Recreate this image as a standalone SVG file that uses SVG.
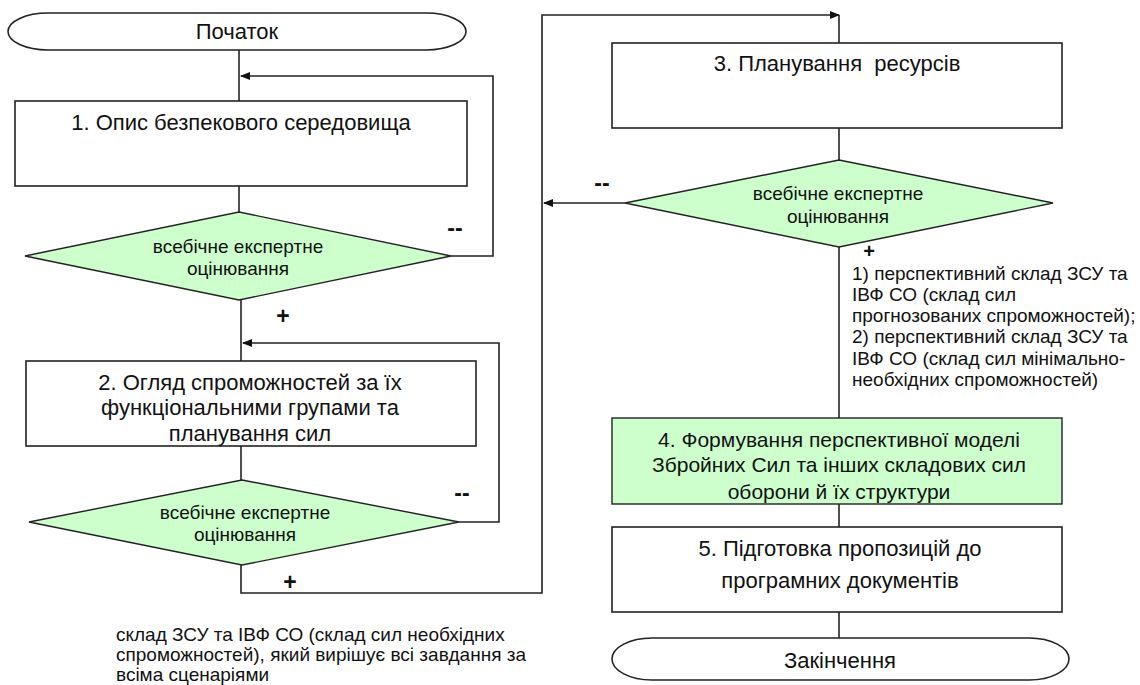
<svg xmlns="http://www.w3.org/2000/svg" width="1140" height="685" viewBox="0 0 1140 685">
<defs>
<style>
.shape{fill:#fff;stroke:#222;stroke-width:1.6}
.green{fill:#ccffcc;stroke:#222;stroke-width:1.4}
.c{fill:none;stroke:#222;stroke-width:1.6}
.t{font-family:"Liberation Sans",Arial,sans-serif;fill:#111}
.big{font-size:22px;text-anchor:middle}
.mid{font-size:19px;text-anchor:middle}
.note{font-size:19px}
.sign{font-size:23px;font-weight:bold;text-anchor:middle}
</style>
<marker id="arr" markerWidth="10" markerHeight="8" refX="9" refY="4" orient="auto" markerUnits="userSpaceOnUse">
<path d="M0,0 L10,4 L0,8 z" fill="#111"/>
</marker>
</defs>
<rect width="1140" height="685" fill="#fff"/>

<g id="connectors">
<line class="c" x1="239" y1="50" x2="239" y2="101"/>
<line class="c" x1="239" y1="186" x2="239" y2="212"/>
<path class="c" d="M451,256 H493 V76 H241" marker-end="url(#arr)"/>
<line class="c" x1="241" y1="300" x2="241" y2="361"/>
<path class="c" d="M459,522 H499 V343 H243" marker-end="url(#arr)"/>
<line class="c" x1="241" y1="446" x2="241" y2="480"/>
<path class="c" d="M241,565 V593 H542 V15 H839" marker-end="url(#arr)"/>
<line class="c" x1="839" y1="15" x2="839" y2="43"/>
<line class="c" x1="839" y1="128" x2="839" y2="160"/>
<path class="c" d="M625,203 H544" marker-end="url(#arr)"/>
<line class="c" x1="839" y1="247" x2="839" y2="418"/>
<line class="c" x1="839" y1="504" x2="839" y2="527"/>
<line class="c" x1="839" y1="612" x2="839" y2="638"/>
<text class="t sign" x="455" y="236">--</text>
<text class="t sign" x="462" y="501">--</text>
<text class="t sign" x="602" y="191">--</text>
<text class="t sign" x="283" y="324">+</text>
<text class="t sign" x="290" y="590">+</text>
<text class="t sign" x="869" y="258" style="font-size:20px">+</text>
</g>

<g id="start">
<path class="shape" d="M48,13 H426 A40,18.5 0 0 1 426,50 H48 A40,18.5 0 0 1 48,13 Z"/>
<text class="t big" x="237" y="39">Початок</text>
</g>

<g id="step1">
<rect class="shape" x="15" y="101" width="452" height="85"/>
<text class="t big" x="241" y="130">1. Опис безпекового середовища</text>
</g>

<g id="decision1">
<polygon class="green" points="239,212 451,256 239,300 25,256"/>
<text class="t mid" x="238" y="253">всебічне експертне</text>
<text class="t mid" x="238" y="275">оцінювання</text>
</g>

<g id="step2">
<rect class="shape" x="26" y="361" width="450" height="85"/>
<text class="t big" x="250" y="390">2. Огляд спроможностей за їх</text>
<text class="t big" x="250" y="415">функціональними групами та</text>
<text class="t big" x="250" y="441">планування сил</text>
</g>

<g id="decision2">
<polygon class="green" points="242,480 459,522 242,565 29,522"/>
<text class="t mid" x="245" y="519">всебічне експертне</text>
<text class="t mid" x="245" y="541">оцінювання</text>
</g>

<g id="note-left">
<text class="t note" x="116" y="641">склад ЗСУ та ІВФ СО (склад сил необхідних</text>
<text class="t note" x="116" y="661">спроможностей), який вирішує всі завдання за</text>
<text class="t note" x="116" y="681">всіма сценаріями</text>
</g>

<g id="step3">
<rect class="shape" x="612" y="43" width="450" height="85"/>
<text class="t big" x="837" y="71" xml:space="preserve">3. Планування  ресурсів</text>
</g>

<g id="decision3">
<polygon class="green" points="839,160 1053,203 839,247 625,203"/>
<text class="t mid" x="838" y="200">всебічне експертне</text>
<text class="t mid" x="838" y="223">оцінювання</text>
</g>

<g id="note-right">
<text class="t note" x="852" y="280">1) перспективний склад ЗСУ та</text>
<text class="t note" x="852" y="301">ІВФ СО (склад сил</text>
<text class="t note" x="852" y="322">прогнозованих спроможностей);</text>
<text class="t note" x="852" y="343">2) перспективний склад ЗСУ та</text>
<text class="t note" x="852" y="365">ІВФ СО (склад сил мінімально-</text>
<text class="t note" x="852" y="386">необхідних спроможностей)</text>
</g>

<g id="step4">
<rect class="green" x="612" y="418" width="450" height="86"/>
<text class="t big" x="839" y="447" style="font-size:21px">4. Формування перспективної моделі</text>
<text class="t big" x="839" y="472" style="font-size:21px">Збройних Сил та інших складових сил</text>
<text class="t big" x="839" y="499" style="font-size:21px">оборони й їх структури</text>
</g>

<g id="step5">
<rect class="shape" x="612" y="527" width="450" height="85"/>
<text class="t big" x="840" y="556">5. Підготовка пропозицій до</text>
<text class="t big" x="840" y="588">програмних документів</text>
</g>

<g id="end">
<path class="shape" d="M652,638 H1029 A40,21 0 0 1 1029,680 H652 A40,21 0 0 1 652,638 Z"/>
<text class="t big" x="840" y="668">Закінчення</text>
</g>
</svg>
